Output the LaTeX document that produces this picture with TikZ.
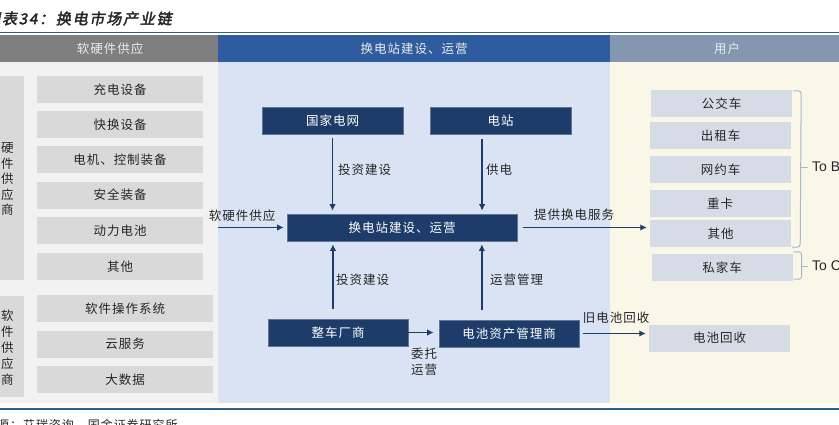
\documentclass[tikz,border=0pt]{standalone}
\usepackage{fontspec}
\setmainfont{Noto Sans CJK SC}[LetterSpace=8]
\newfontfamily\titlefont{Noto Sans CJK SC}[FakeSlant=0.2,FakeBold=2.5,LetterSpace=12]
\newfontfamily\latinfont{Liberation Sans}
\usetikzlibrary{calc,arrows.meta}
\definecolor{hgray}{HTML}{7F7F7F}
\definecolor{hblue}{HTML}{2E5C9E}
\definecolor{hslate}{HTML}{8497B0}
\definecolor{lbg}{HTML}{F2F2F2}
\definecolor{lbox}{HTML}{D9D9D9}
\definecolor{mbg}{HTML}{DAE3F3}
\definecolor{rbg}{HTML}{FBF7E8}
\definecolor{rbox}{HTML}{D6DCE5}
\definecolor{navy}{HTML}{1E3C6A}
\definecolor{rule}{HTML}{2F5F8A}
\definecolor{txt}{HTML}{262626}
\definecolor{brk}{HTML}{A9B7CA}
\newcommand{\fsz}[2]{\fontsize{#1}{#2}\selectfont}
\tikzset{
  leftbox/.style={fill=lbox, minimum width=166pt, minimum height=27pt, inner sep=0pt, text=txt, font=\fsz{12.5}{14}},
  softbox/.style={leftbox, minimum width=176pt},
  tallbox/.style={fill=lbox, inner sep=0pt},
  vtext/.style={align=center, text=txt, inner sep=0pt},
  navybox/.style={fill=navy, draw=navy!70!white, line width=0.6pt, minimum height=27pt, inner sep=0pt, text=white, font=\fsz{12.5}{14}},
  userbox/.style={fill=rbox, minimum width=141pt, minimum height=27pt, inner sep=0pt, text=txt, font=\fsz{12.5}{14}},
  headtext/.style={text=white!92!black, font=\fsz{12.5}{14}, inner sep=0pt},
  lbl/.style={text=txt, font=\fsz{12.5}{14}, inner sep=0pt},
  arr/.style={draw=navy, line width=1.4pt, -{Latex[length=6.5pt,width=6.5pt]}},
  brace/.style={draw=brk, line width=1pt, rounded corners=3pt},
  tolbl/.style={text=txt, font=\latinfont\fsz{14}{16}, inner sep=0pt, anchor=west}
}
\begin{document}
\begin{tikzpicture}[x=1pt,y=-1pt]
\useasboundingbox (0,0) rectangle (839,424);
\clip (0,0) rectangle (839,424);
% title
\node[anchor=west, inner sep=0pt, text=txt, font=\titlefont\fsz{15}{17}] (title) at (-15,18.5) {图表34：换电市场产业链};
% rules
\fill[rule] (0,31.5) rectangle (839,33.3);
\fill[rule] (0,408.2) rectangle (839,410);
% headers
\fill[hgray] (0,35) rectangle (218,61.5);
\fill[hblue] (218,35) rectangle (610,61.5);
\fill[hslate] (610,35) rectangle (839,61.5);
\node[headtext] (h1) at (110,48.5) {软硬件供应};
\node[headtext] (h2) at (414,48.5) {换电站建设、运营};
\node[headtext] (h3) at (727,48.5) {用户};
% backgrounds
\fill[lbg] (0,61.5) rectangle (218,403);
\fill[mbg] (218,61.5) rectangle (610,403);
\fill[rbg] (610,61.5) rectangle (839,403);
% left column
\fill[tallbox] (-20,76) rectangle (24,280);
\node[vtext, font=\fsz{12.5}{15.5}] (hw) at (7.5,179.5) {硬\\件\\供\\应\\商};
\fill[tallbox] (-20,296) rectangle (24,397);
\node[vtext, font=\fsz{12.5}{16}] (sw) at (7.5,347.5) {软\\件\\供\\应\\商};
\node[leftbox] (i1) at (120,89.5) {充电设备};
\node[leftbox] (i2) at (120,124.5) {快换设备};
\node[leftbox] (i3) at (120,159.5) {电机、控制装备};
\node[leftbox] (i4) at (120,195) {安全装备};
\node[leftbox] (i5) at (120,230.5) {动力电池};
\node[leftbox] (i6) at (120,266.5) {其他};
\node[softbox] (s1) at (125,308.5) {软件操作系统};
\node[softbox] (s2) at (125,344) {云服务};
\node[softbox] (s3) at (125,379.5) {大数据};
% middle column
\node[navybox, minimum width=141pt] (gw) at (332.5,121) {国家电网};
\node[navybox, minimum width=141pt] (dz) at (500.5,120.5) {电站};
\node[navybox, minimum width=230pt] (hd) at (402,227.5) {换电站建设、运营};
\node[navybox, minimum width=140pt] (zc) at (338,332.5) {整车厂商};
\node[navybox, minimum width=140pt] (bm) at (509,333.5) {电池资产管理商};
\coordinate (lin) at (218,227.5);
% right column
\node[userbox] (u1) at (721.5,103.5) {公交车};
\node[userbox] (u2) at (720.5,135.5) {出租车};
\node[userbox] (u3) at (720.5,169.5) {网约车};
\node[userbox] (u4) at (720,203.5) {重卡};
\node[userbox] (u5) at (720.5,233.5) {其他};
\node[userbox] (u6) at (722,267.5) {私家车};
\node[userbox] (u7) at (719.5,338) {电池回收};
% arrows
\draw[arr, shorten <=3pt, shorten >=3pt] (gw.south) -- (gw.south |- hd.north);
\coordinate (dzb) at ($(dz.south west)!0.37!(dz.south east)$);
\draw[arr, shorten <=5pt, shorten >=3pt] (dzb) -- (dzb |- hd.north);
\coordinate (zct) at ($(zc.north west)!0.464!(zc.north east)$);
\draw[arr, shorten <=10pt, shorten >=3pt] (zct) -- (zct |- hd.south);
\coordinate (bmt) at ($(bm.north west)!0.307!(bm.north east)$);
\draw[arr, shorten <=10pt, shorten >=3pt] (bmt) -- (bmt |- hd.south);
\draw[arr, shorten >=3pt] (lin) -- (hd.west);
\draw[arr, shorten <=6pt, shorten >=3pt] (hd.east) -- (hd.east -| u5.west);
\draw[arr, shorten >=5pt] (zc.east) -- (zc.east -| bm.west);
\draw[arr, shorten <=4pt, shorten >=3pt] (bm.east) -- (bm.east -| u7.west);
% labels
\node[lbl, anchor=west] (l1) at (338,170) {投资建设};
\node[lbl, anchor=west] (l2) at (486,170) {供电};
\node[lbl] (l3) at (242,215.5) {软硬件供应};
\node[lbl] (l4) at (574,215) {提供换电服务};
\node[lbl, anchor=west] (l5) at (336,280) {投资建设};
\node[lbl, anchor=west] (l6) at (490,280) {运营管理};
\node[lbl, align=center, font=\fsz{12.5}{16}] (l7) at (424,362) {委托\\运营};
\node[lbl] (l8) at (616,318) {旧电池回收};
% brackets
\draw[brace] ($(u1.north east)+(1,1)$) -- ++(8,0) -- ($(u5.south east)+(9,0)$) -- ($(u5.south east)+(1,0)$);
\coordinate (tb) at (801,167);
\draw[draw=brk, line width=1pt] (tb) -- ++(7,0);
\node[tolbl] (toB) at (812,167) {To B};
\draw[brace] ($(u6.north east)+(1,-2)$) -- ++(8,0) -- ($(u6.south east)+(9,-2)$) -- ($(u6.south east)+(1,-2)$);
\coordinate (tc) at (801,266);
\draw[draw=brk, line width=1pt] (tc) -- ++(7,0);
\node[tolbl] (toC) at (812,266) {To C};
% source
\node[anchor=west, inner sep=0pt, text=txt, font=\fsz{12}{14}] (src) at (-16,425) {来源：艾瑞咨询，国金证券研究所};
\end{tikzpicture}
\end{document}
